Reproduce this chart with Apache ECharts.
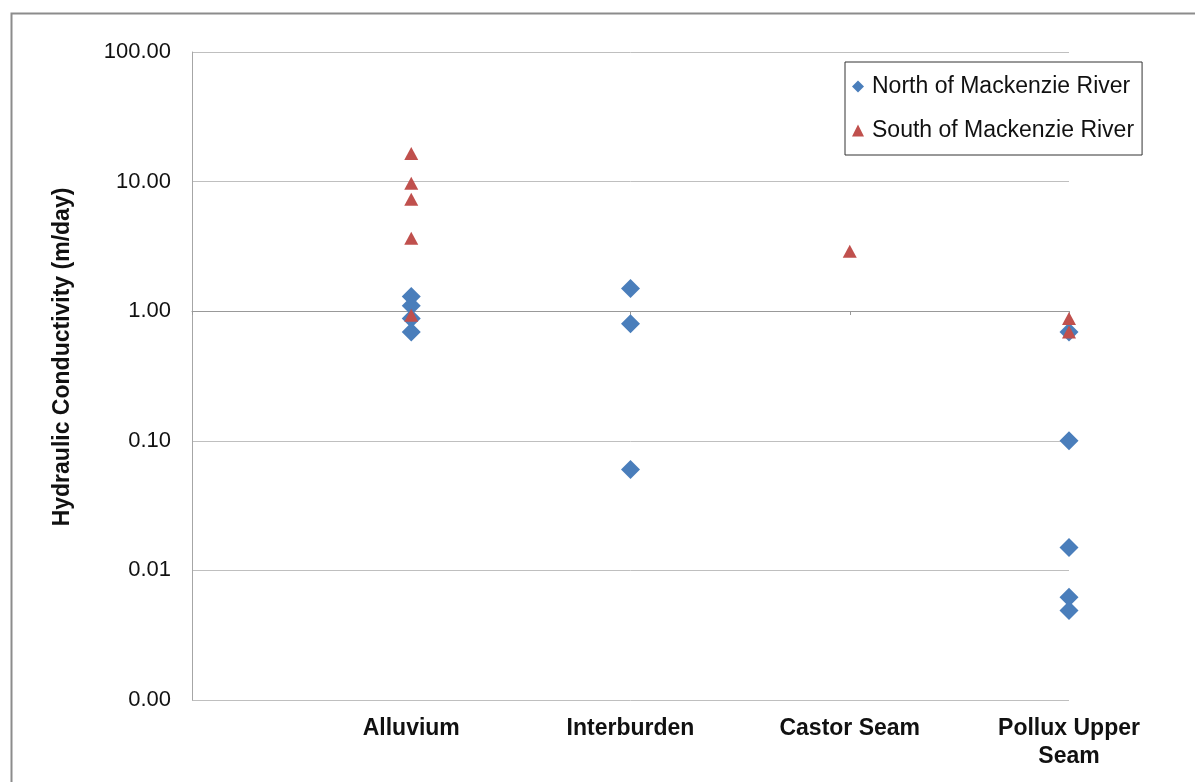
<!DOCTYPE html>
<html>
<head>
<meta charset="utf-8">
<script src="https://cdn.jsdelivr.net/npm/echarts@6/dist/echarts.min.js"></script>
<style>
html,body{margin:0;padding:0;background:#fff;}
#chart{width:1195px;height:782px;}
</style>
</head>
<body>
<div id="chart"></div>
<script>
const categories = ['Alluvium', 'Interburden', 'Castor Seam', 'Pollux Upper\nSeam'];
const northCat = [1, 1, 1, 1, 2, 2, 2, 4, 4, 4, 4, 4];
const northK = [1.3, 1.1, 0.88, 0.69, 1.5, 0.8, 0.06, 0.69, 0.1, 0.015, 0.0062, 0.0049];
const southCat = [1, 1, 1, 1, 1, 3, 4, 4];
const southK = [16.5, 9.7, 7.3, 3.65, 0.93, 2.9, 0.88, 0.69];

const FONT = '"Liberation Sans", Arial, sans-serif';
const chart = echarts.init(document.getElementById('chart'));
chart.setOption({
  animation: false,
  backgroundColor: '#fff',
  graphic: [{
    type: 'rect', left: 9, top: 11,
    shape: { width: 1200, height: 800 },
    style: { fill: 'none', stroke: '#8c8c8c', lineWidth: 2 }
  }],
  grid: { left: 192, top: 52, right: 126, bottom: 82 },
  legend: {
    orient: 'vertical', left: 845, top: 62,
    padding: [13, 8, 13, 7], itemGap: 21,
    itemWidth: 12, itemHeight: 12,
    borderColor: '#333', borderWidth: 1, backgroundColor: '#fff',
    textStyle: { fontFamily: FONT, fontSize: 23, color: '#111', padding: [0, 0, 0, 3] },
    data: [
      { name: 'North of Mackenzie River', icon: 'diamond' },
      { name: 'South of Mackenzie River', icon: 'triangle' }
    ]
  },
  xAxis: [{
    type: 'value', min: 0, max: 4, interval: 1,
    axisLine: { show: false }, axisTick: { show: false },
    splitLine: { show: false },
    axisLabel: {
      margin: 15, fontFamily: FONT, fontSize: 23, fontWeight: 'bold', color: '#111',
      lineHeight: 28, align: 'center',
      formatter: v => (v >= 1 && v <= categories.length) ? categories[v - 1] : ''
    }
  }, {
    type: 'value', min: 0, max: 4, interval: 1, position: 'bottom', offset: -389,
    axisLine: { show: true, lineStyle: { color: '#999' } },
    axisTick: { show: true, length: 4, lineStyle: { color: '#999' } },
    axisLabel: { show: false }, splitLine: { show: false }
  }],
  yAxis: {
    type: 'log', logBase: 10, min: 0.001, max: 100,
    name: 'Hydraulic Conductivity (m/day)', nameLocation: 'middle', nameGap: 118,
    nameTextStyle: { fontFamily: FONT, fontSize: 23, fontWeight: 'bold', color: '#111', padding: [0, 0, 0, 38] },
    axisLine: { show: true, lineStyle: { color: '#a6a6a6' } },
    axisTick: { show: false },
    axisLabel: {
      margin: 21, fontFamily: FONT, fontSize: 22, color: '#111',
      formatter: v => Number(v).toFixed(2)
    },
    splitLine: { show: true, lineStyle: { color: '#bfbfbf' } }
  },
  series: [{
    name: 'North of Mackenzie River', type: 'scatter', symbol: 'diamond', symbolSize: 19,
    itemStyle: { color: '#4a7ebb', opacity: 1 },
    data: northCat.map((c, i) => [c, northK[i]]), z: 3
  }, {
    name: 'South of Mackenzie River', type: 'scatter', symbol: 'triangle', symbolSize: [14, 13],
    itemStyle: { color: '#c0504d', opacity: 1 },
    data: southCat.map((c, i) => [c, southK[i]]), z: 4
  }]
});
</script>
</body>
</html>
